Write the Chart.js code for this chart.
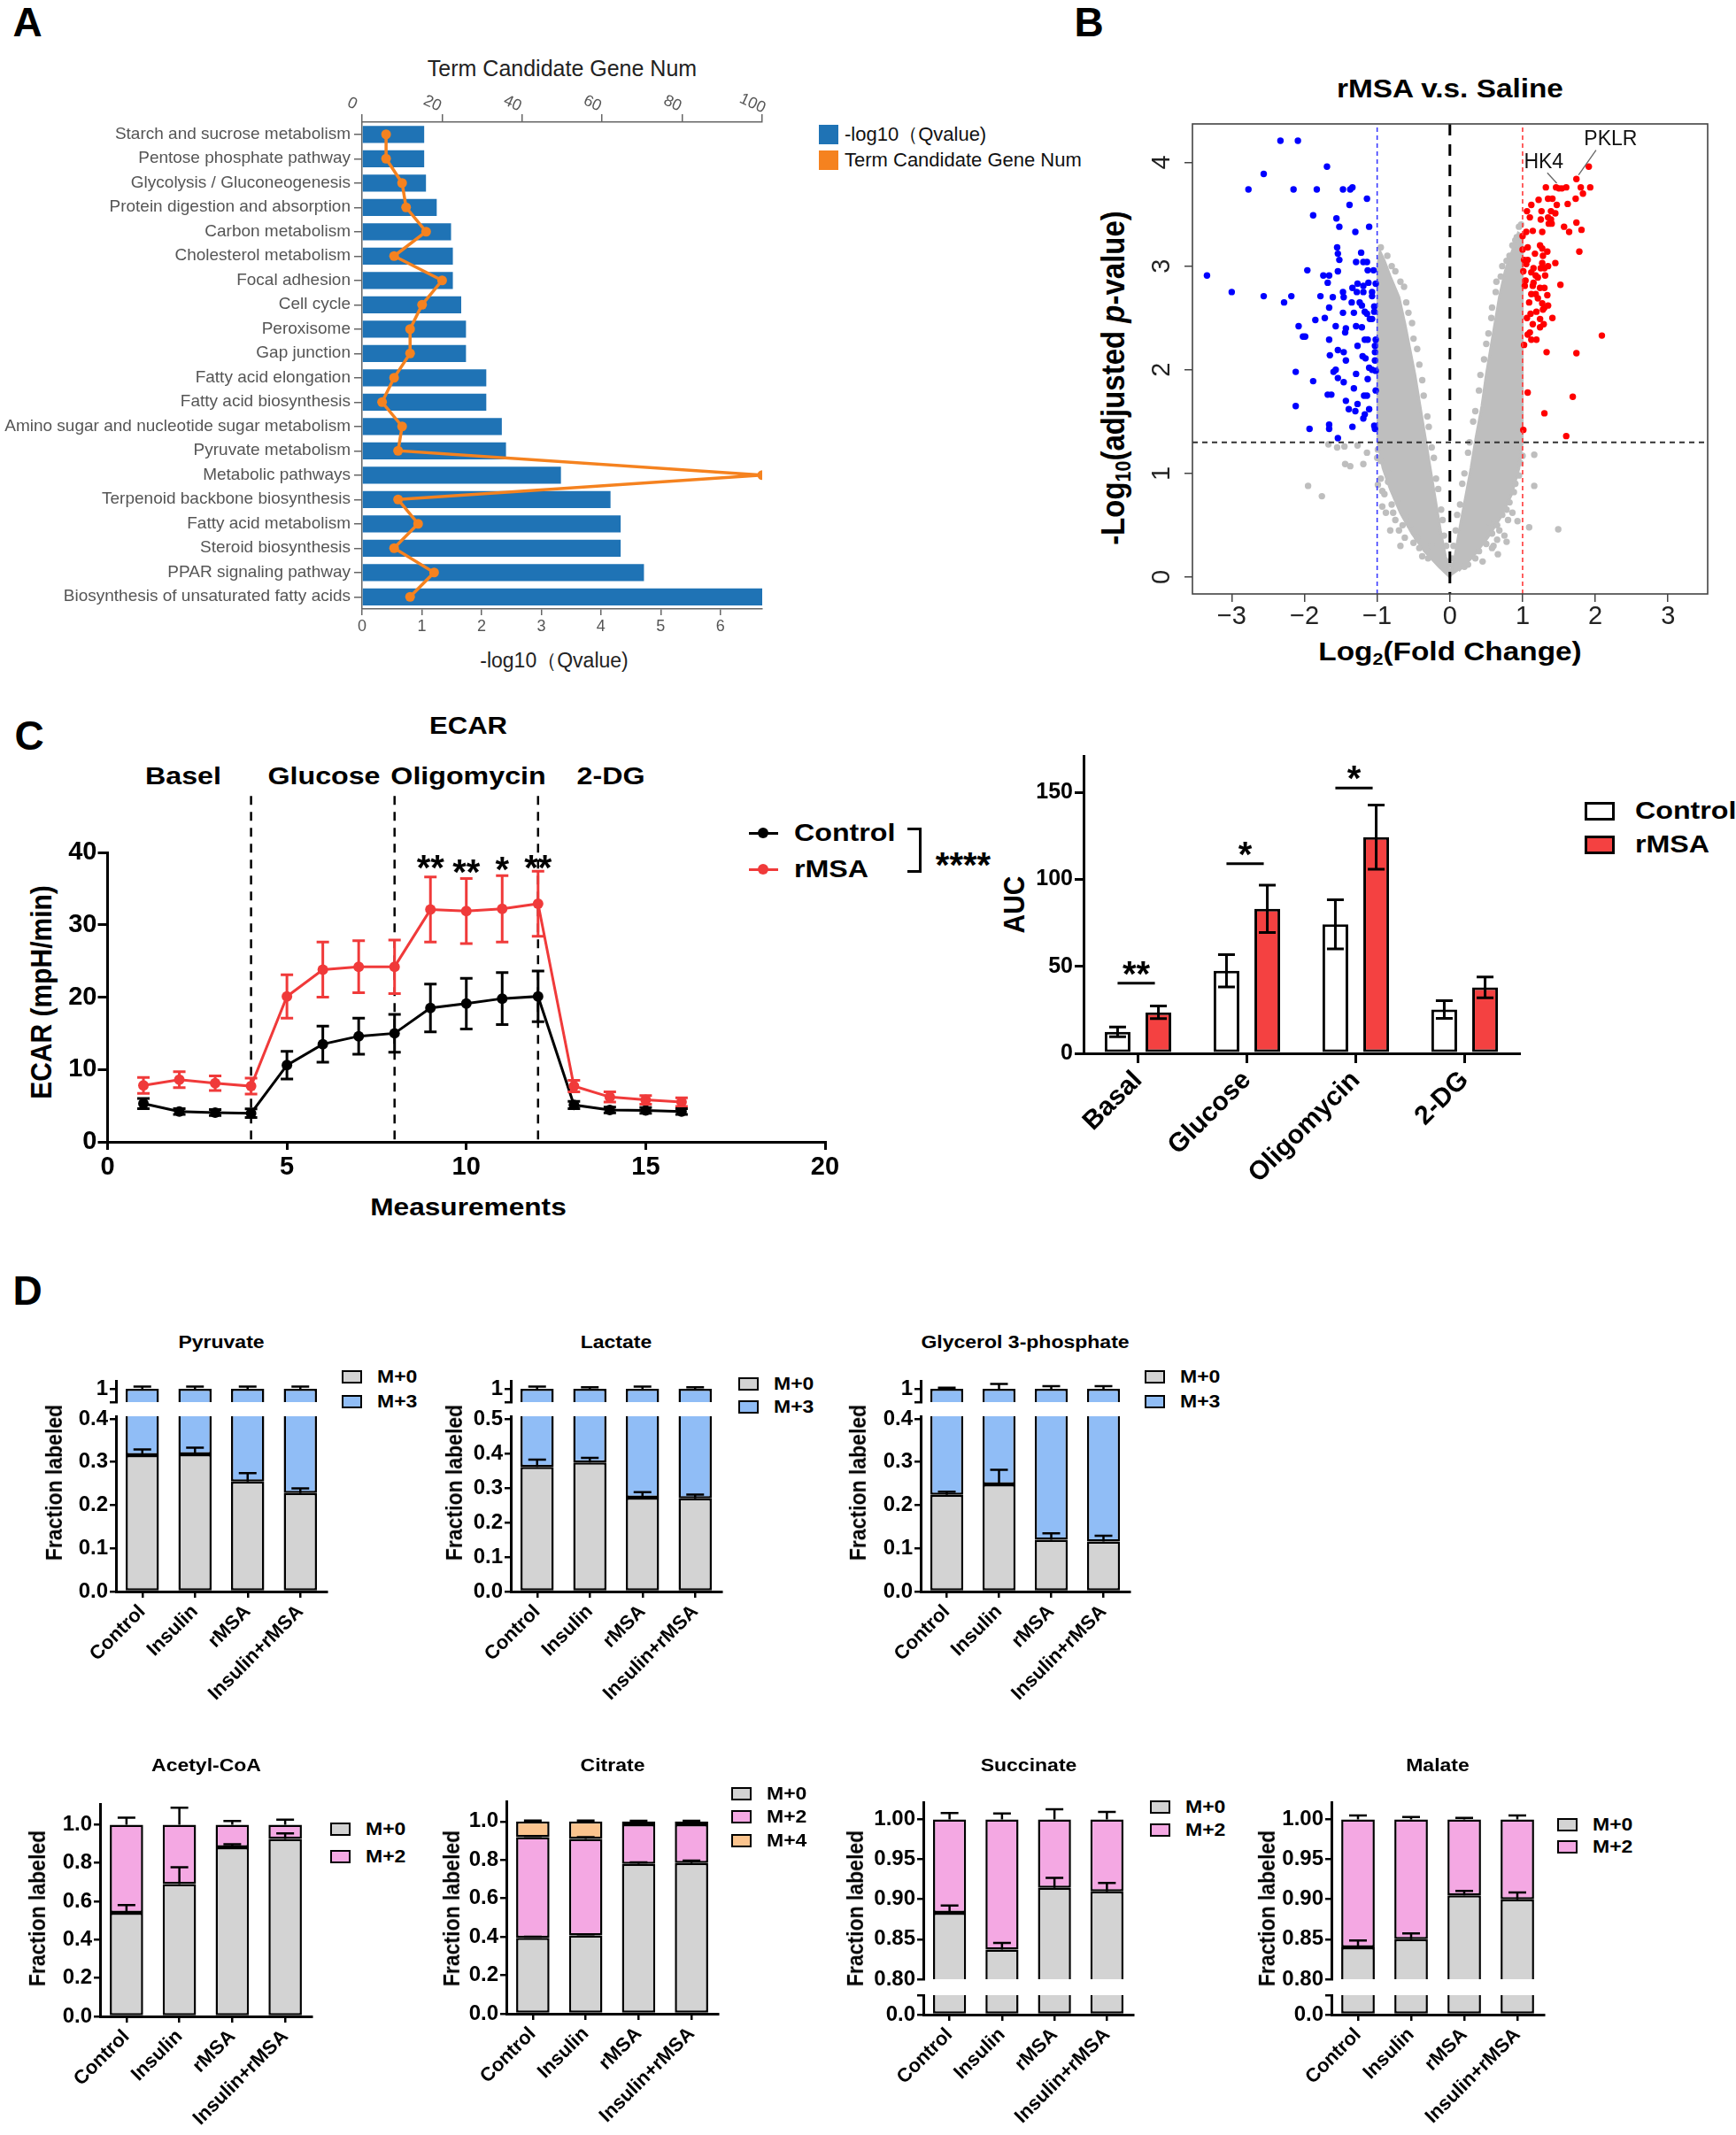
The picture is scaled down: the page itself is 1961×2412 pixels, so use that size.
<!DOCTYPE html>
<html>
<head>
<meta charset="utf-8">
<title>Figure</title>
<script src="https://cdn.jsdelivr.net/npm/chart.js"></script>
<style>
  html, body { margin: 0; padding: 0; background: #fff; }
  #page { position: relative; width: 1961px; height: 2412px; overflow: hidden; background: #fff; }
  #page canvas { position: absolute; }
  .lbl { position: absolute; white-space: nowrap; line-height: 1; }
  .box { position: absolute; box-sizing: border-box; }
</style>
</head>
<body>
<div id="page"></div>
<script>
const page = document.getElementById('page');
const SANS = '"Liberation Sans", Arial, Helvetica, sans-serif';

Chart.defaults.font.family = SANS;
Chart.defaults.color = '#000';
Chart.defaults.animation = false;
Chart.defaults.plugins.legend.display = false;
Chart.defaults.plugins.tooltip.enabled = false;

// ---------- A: KEGG enrichment ----------
const keggTerms = [
  'Starch and sucrose metabolism', 'Pentose phosphate pathway', 'Glycolysis / Gluconeogenesis',
  'Protein digestion and absorption', 'Carbon metabolism', 'Cholesterol metabolism', 'Focal adhesion',
  'Cell cycle', 'Peroxisome', 'Gap junction', 'Fatty acid elongation', 'Fatty acid biosynthesis',
  'Amino sugar and nucleotide sugar metabolism', 'Pyruvate metabolism', 'Metabolic pathways',
  'Terpenoid backbone biosynthesis', 'Fatty acid metabolism', 'Steroid biosynthesis',
  'PPAR signaling pathway', 'Biosynthesis of unsaturated fatty acids'
];
const keggQvalue = [1.04, 1.04, 1.07, 1.25, 1.49, 1.52, 1.52, 1.66, 1.74, 1.74, 2.08, 2.08, 2.34, 2.41, 3.33, 4.16, 4.33, 4.33, 4.72, 6.7];
const keggGeneNum = [6, 6, 10, 11, 16, 8, 20, 15, 12, 12, 8, 5, 10, 9, 100, 9, 14, 8, 18, 12];
const qvalueTicks = [0, 1, 2, 3, 4, 5, 6];
const geneNumTicks = [0, 20, 40, 60, 80, 100];

// ---------- B: volcano ----------
const volcanoXRange = [-3.54, 3.545];
const volcanoYRange = [-0.163, 4.372];
const volcanoXTicks = [-3, -2, -1, 0, 1, 2, 3];
const volcanoYTicks = [0, 1, 2, 3, 4];
const volcanoDown = [
  [-2.33,4.21],[-2.09,4.21],[-2.56,3.89],[-1.69,3.96],[-2.77,3.74],[-2.15,3.74],[-1.83,3.74],[-1.47,3.74],
  [-1.37,3.74],[-1.34,3.76],[-1.14,3.65],[-1.38,3.59],[-1.88,3.49],[-1.56,3.46],[-1.52,3.38],[-1.11,3.38],
  [-1.30,3.33],[-1.55,3.18],[-1.54,3.12],[-1.22,3.13],[-1.52,3.06],[-1.29,3.04],[-1.19,3.04],[-1.14,3.04],
  [-1.96,2.96],[-1.54,2.95],[-1.13,2.96],[-1.05,2.96],[-3.34,2.91],[-1.74,2.91],[-1.66,2.91],[-1.68,2.84],
  [-1.27,2.83],[-1.12,2.84],[-1.02,2.83],[-1.34,2.79],[-1.19,2.81],[-1.47,2.75],[-1.28,2.75],[-1.19,2.75],
  [-1.07,2.75],[-3.00,2.75],[-2.56,2.71],[-2.18,2.71],[-1.78,2.71],[-1.61,2.70],[-1.46,2.70],[-1.07,2.71],
  [-2.28,2.65],[-1.35,2.65],[-1.24,2.65],[-1.21,2.62],[-1.66,2.60],[-1.04,2.61],[-1.04,2.56],[-1.47,2.55],
  [-1.32,2.55],[-1.17,2.56],[-1.14,2.54],[-1.85,2.48],[-1.72,2.50],[-1.10,2.49],[-1.07,2.49],[-2.08,2.42],
  [-1.57,2.42],[-1.43,2.40],[-1.29,2.42],[-1.21,2.41],[-1.44,2.36],[-2.02,2.32],[-1.99,2.32],[-1.66,2.29],
  [-1.17,2.29],[-1.13,2.29],[-1.02,2.29],[-1.27,2.23],[-1.03,2.23],[-1.54,2.19],[-1.46,2.17],[-1.65,2.14],
  [-1.20,2.13],[-1.16,2.11],[-1.03,2.17],[-1.03,2.09],[-1.43,2.09],[-1.57,2.00],[-1.60,1.98],[-2.12,1.98],
  [-1.29,1.96],[-1.11,2.02],[-1.07,2.00],[-1.02,1.99],[-1.54,1.92],[-1.46,1.88],[-1.88,1.89],[-1.13,1.91],
  [-1.32,1.82],[-1.02,1.80],[-1.68,1.76],[-1.63,1.76],[-1.18,1.75],[-1.14,1.75],[-1.43,1.70],[-1.27,1.67],
  [-2.12,1.65],[-1.39,1.62],[-1.30,1.60],[-1.11,1.62],[-1.17,1.57],[-1.19,1.53],[-1.34,1.45],[-1.04,1.46],
  [-1.03,1.43],[-1.93,1.43],[-1.66,1.47],[-1.66,1.43],[-1.54,1.34]
];
const volcanoUp = [
  [1.91,3.96],[1.74,3.84],[1.32,3.76],[1.46,3.76],[1.50,3.75],[1.54,3.75],[1.60,3.76],[1.80,3.76],[1.93,3.76],
  [1.73,3.65],[1.83,3.70],[1.22,3.64],[1.35,3.65],[1.41,3.65],[1.47,3.59],[1.12,3.59],[1.62,3.60],[1.06,3.53],
  [1.26,3.53],[1.39,3.53],[1.45,3.51],[1.10,3.47],[1.25,3.45],[1.35,3.47],[1.39,3.45],[1.36,3.41],[1.40,3.41],
  [1.74,3.42],[1.57,3.38],[1.81,3.35],[1.14,3.34],[1.27,3.33],[1.64,3.33],[1.05,3.33],[1.00,3.29],[1.24,3.20],
  [1.27,3.17],[1.07,3.18],[1.78,3.14],[1.00,3.16],[1.02,3.06],[1.17,3.12],[1.28,3.10],[1.34,3.14],[1.07,3.06],
  [1.05,3.02],[1.27,3.03],[1.35,3.00],[1.45,3.03],[1.15,2.98],[1.25,2.98],[1.30,2.98],[1.01,2.95],[1.12,2.94],
  [1.18,2.91],[1.21,2.89],[1.31,2.91],[1.04,2.86],[1.15,2.84],[1.14,2.81],[1.52,2.82],[1.03,2.81],[1.24,2.79],
  [1.30,2.79],[1.12,2.73],[1.18,2.73],[1.34,2.72],[1.21,2.69],[1.09,2.65],[1.27,2.64],[1.30,2.60],[1.35,2.62],
  [1.28,2.58],[1.11,2.54],[1.19,2.56],[1.06,2.50],[1.24,2.49],[1.41,2.50],[1.14,2.44],[1.29,2.44],[1.24,2.41],
  [1.10,2.36],[1.07,2.34],[1.19,2.29],[1.12,2.29],[2.09,2.33],[1.02,2.24],[1.33,2.17],[1.74,2.16],[1.07,1.78],
  [1.69,1.74],[1.30,1.58],[1.01,1.42],[1.60,1.36]
];
// non-significant genes: dense core outlines plus scattered points
const volcanoCoreLeft = [
  [0,0],[-0.15,0.1],[-0.35,0.25],[-0.52,0.42],[-0.68,0.62],[-0.82,0.85],[-0.92,1.05],[-0.99,1.3],[-0.99,3.02],[-0.96,3.14],
  [-0.9,3.05],[-0.82,2.9],[-0.7,2.7],[-0.62,2.45],[-0.55,2.2],[-0.48,1.95],[-0.41,1.65],[-0.34,1.35],[-0.27,1.05],
  [-0.2,0.75],[-0.13,0.45],[-0.06,0.2],[-0.02,0.08]
];
const volcanoCoreRight = [
  [0,0],[0.02,0.05],[0.07,0.2],[0.13,0.45],[0.21,0.75],[0.29,1.05],[0.36,1.35],[0.44,1.65],[0.5,1.95],[0.56,2.2],
  [0.62,2.45],[0.68,2.7],[0.76,2.95],[0.86,3.15],[0.94,3.32],[0.99,3.3],[1.0,2.9],[0.99,1.3],[0.95,1.05],
  [0.85,0.8],[0.7,0.58],[0.52,0.38],[0.32,0.2],[0.12,0.06]
];
const volcanoNs = [
  [-0.25,0.3],[-0.42,0.28],[-0.55,0.5],[-0.62,0.38],[-0.75,0.55],[-0.8,0.7],[-0.9,0.8],[-0.85,1.0],[-0.95,0.95],
  [-1.0,1.15],[-0.7,0.45],[-0.5,0.33],[-0.05,0.3],[-0.1,0.55],[-0.16,0.85],[-0.22,1.15],[-0.29,1.45],[-0.36,1.75],
  [-0.42,2.05],[-0.5,2.3],[-0.57,2.55],[-0.63,2.8],[-0.75,2.95],[-0.86,3.1],[-0.95,3.18],[0.05,0.3],[0.1,0.6],
  [0.17,0.9],[0.25,1.2],[0.32,1.5],[0.4,1.8],[0.47,2.1],[0.53,2.35],[0.58,2.6],[0.64,2.85],[0.72,3.0],[0.82,3.1],
  [0.9,3.25],[0.95,3.38],[0.2,0.1],[0.4,0.25],[0.58,0.42],[0.72,0.6],[0.82,0.72],[0.9,0.9],[0.97,1.1],[0.6,0.3],
  [0.8,0.55],[0.45,0.15],[-1.95,0.88],[-1.76,0.78],[-1.44,1.09],[-1.19,1.09],[-1.45,1.26],[-1.67,1.28],[-1.14,1.2],
  [-1.27,1.27],[-0.99,1.23],[-0.99,0.89],[-0.93,0.83],[-0.93,0.68],[-1.37,1.07],[-1.55,1.25],[1.16,1.18],[1.16,0.88],
  [1.09,0.48],[0.93,0.54],[0.65,0.36],[0.53,0.53],[1.49,0.46],[1.0,1.17],[0.58,0.28],[0.75,0.4],[0.0,0.06],[0.0,0.12],
  [-0.03,0.15],[-0.08,0.4],[-0.12,0.65],[-0.19,0.95],[-0.25,1.25],[-0.31,1.55],[-0.38,1.9],[-0.45,2.2],[-0.52,2.45],
  [-0.6,2.65],[-0.68,2.85],[-0.8,3.0],[-0.3,0.18],[-0.45,0.38],[-0.6,0.58],[-0.72,0.75],[-0.85,0.92],[-0.95,1.12],
  [-0.65,0.5],[-0.78,0.62],[-0.38,0.2],[-0.88,0.62],[-0.82,0.45],[-0.68,0.3],[0.03,0.18],[0.08,0.45],[0.14,0.7],
  [0.2,1.0],[0.27,1.3],[0.35,1.6],[0.42,1.95],[0.5,2.25],[0.57,2.5],[0.63,2.75],[0.7,2.9],[0.78,3.05],[0.86,3.2],
  [0.25,0.12],[0.5,0.32],[0.65,0.5],[0.78,0.65],[0.88,0.82],[0.95,0.98],[0.35,0.18],[0.68,0.45],[0.98,3.4],
  [0.92,3.28],[0.86,0.62],[0.78,0.34],[0.66,0.22]
];
const geneNames = ['HK4', 'PKLR'];
const geneTextPos = [[1.29, 4.0], [2.21, 4.22]];
const geneLeaderFrom = [[1.34, 3.90], [2.01, 4.12]];
const geneLeaderTo = [[1.47, 3.80], [1.77, 3.88]];
const foldCut = 1, padjCut = 1.3;

// ---------- C: ECAR ----------
const measurementIdx = [1, 2, 3, 4, 5, 6, 7, 8, 9, 10, 11, 12, 13, 14, 15, 16];
const ecarControl = [5.3, 4.2, 4.05, 3.96, 10.6, 13.5, 14.6, 15.0, 18.5, 19.1, 19.8, 20.1, 5.1, 4.4, 4.35, 4.2];
const ecarControlSem = [0.7, 0.4, 0.4, 0.6, 1.9, 2.5, 2.5, 2.6, 3.3, 3.5, 3.6, 3.5, 0.5, 0.4, 0.4, 0.4];
const ecarRmsa = [7.8, 8.6, 8.1, 7.7, 20.1, 23.8, 24.2, 24.2, 32.1, 31.9, 32.2, 32.9, 7.7, 6.2, 5.8, 5.5];
const ecarRmsaSem = [1.1, 1.1, 1.0, 1.1, 3.0, 3.8, 3.6, 3.7, 4.5, 4.5, 4.6, 4.5, 0.8, 0.7, 0.6, 0.6];
const ecarPhaseBreaks = [4, 8, 12];
const ecarPhaseTop = 47.8;
const ecarStarX = [9, 10, 11, 12];
const ecarStarY = [39.0, 38.4, 38.7, 39.0];
const ecarStarText = ['**', '**', '*', '**'];

const aucPhases = ['Basal', 'Glucose', 'Oligomycin', '2-DG'];
const aucControl = [12.3, 47.5, 74.2, 25.2];
const aucControlSem = [2.8, 9.3, 14.1, 5.1];
const aucRmsa = [23.6, 83.1, 124.3, 37.9];
const aucRmsaSem = [3.6, 13.6, 18.5, 6.0];
const aucSigLevel = [40.3, 109.0, 152.5];
const aucSigText = ['**', '*', '*'];

// ---------- D: isotope labelling ----------
const fractionGroups = ['Control', 'Insulin', 'rMSA', 'Insulin+rMSA'];
const pyruvateM0 = [0.316, 0.318, 0.255, 0.228];
const pyruvateM3 = [0.684, 0.682, 0.745, 0.772];
const pyruvateM0Err = [0.013, 0.015, 0.019, 0.011];
const pyruvateM3Err = [0.004, 0.004, 0.004, 0.004];
const lactateM0 = [0.361, 0.374, 0.272, 0.270];
const lactateM3 = [0.639, 0.626, 0.728, 0.730];
const lactateM0Err = [0.021, 0.013, 0.016, 0.011];
const lactateM3Err = [0.004, 0.003, 0.004, 0.003];
const g3pM0 = [0.224, 0.248, 0.120, 0.116];
const g3pM3 = [0.776, 0.752, 0.880, 0.884];
const g3pM0Err = [0.007, 0.034, 0.015, 0.013];
const g3pM3Err = [0.002, 0.009, 0.005, 0.005];
const acetylM0 = [0.540, 0.690, 0.882, 0.926];
const acetylM2 = [0.460, 0.310, 0.118, 0.074];
const acetylM0Err = [0.040, 0.088, 0.016, 0.028];
const acetylM2Err = [0.037, 0.088, 0.019, 0.026];
const citrateM0 = [0.395, 0.407, 0.779, 0.784];
const citrateM2 = [0.523, 0.502, 0.206, 0.201];
const citrateM4 = [0.082, 0.091, 0.015, 0.015];
const citrateM0Err = [0.005, 0.006, 0.008, 0.012];
const citrateM2Err = [0.006, 0.010, 0.003, 0.003];
const citrateM4Err = [0.005, 0.005, 0.004, 0.004];
const succinateM0 = [0.883, 0.837, 0.9145, 0.910];
const succinateM2 = [0.117, 0.163, 0.0855, 0.090];
const succinateM0Err = [0.0093, 0.0085, 0.0123, 0.0104];
const succinateM2Err = [0.008, 0.0074, 0.0126, 0.0093];
const malateM0 = [0.840, 0.850, 0.905, 0.900];
const malateM2 = [0.160, 0.150, 0.095, 0.100];
const malateM0Err = [0.0086, 0.0074, 0.0056, 0.0086];
const malateM2Err = [0.005, 0.003, 0.002, 0.005];

const GRAY = '#d3d3d3', BLUE = '#90bdf6', PINK = '#f4a8e3', ORANGE = '#fbc48e';

// ---------- helpers ----------
function addText(html, x, y, o = {}) {
  const d = document.createElement('div');
  d.className = 'lbl';
  d.innerHTML = html;
  d.style.font = `${o.weight || 'bold'} ${o.size || 28}px ${SANS}`;
  d.style.color = o.color || '#000';
  d.style.left = x + 'px';
  d.style.top = y + 'px';
  let t = `translate(${o.align === 'left' ? '0' : '-50%'}, -50%)`;
  if (o.rot) t += ` rotate(${o.rot}deg)`;
  if (o.sx) t += ` scaleX(${o.sx})`;
  if (o.sy) t += ` scaleY(${o.sy})`;
  d.style.transform = t;
  if (o.align === 'left') d.style.transformOrigin = '0 50%';
  page.appendChild(d);
  return d;
}
function addStars(text, x, yc, size) {
  const d = document.createElement('div');
  d.className = 'lbl';
  d.textContent = text;
  d.style.font = `bold ${size}px ${SANS}`;
  d.style.left = x + 'px';
  d.style.top = (yc - 0.28 * size) + 'px';
  d.style.transform = 'translateX(-50%)';
  page.appendChild(d);
}
function addBox(x, y, w, h, css) {
  const d = document.createElement('div');
  d.className = 'box';
  Object.assign(d.style, { left: x + 'px', top: y + 'px', width: w + 'px', height: h + 'px' }, css);
  page.appendChild(d);
}
function addCanvas(left, top, w, h) {
  const c = document.createElement('canvas');
  c.width = w; c.height = h;
  c.style.left = left + 'px'; c.style.top = top + 'px';
  c.style.width = w + 'px'; c.style.height = h + 'px';
  page.appendChild(c);
  return c;
}
const fixW = w => s => { s.width = w; };
const fixH = h => s => { s.height = h; };
const setTicks = vals => s => { s.ticks = vals.map(v => ({ value: v })); };
const baseOpts = { responsive: false, maintainAspectRatio: false, devicePixelRatio: 1, animation: false };

function drawStars(ctx, text, x, yc, size) {
  ctx.save();
  ctx.font = `bold ${size}px ${SANS}`;
  ctx.fillStyle = '#000';
  ctx.textAlign = 'center';
  ctx.textBaseline = 'alphabetic';
  ctx.fillText(text, x, yc + 0.565 * size);
  ctx.restore();
}

const errorBarPlugin = {
  id: 'errorBars',
  afterDatasetsDraw(chart) {
    const ctx = chart.ctx;
    chart.data.datasets.forEach((ds, di) => {
      if (!ds.err) return;
      const meta = chart.getDatasetMeta(di);
      const ys = chart.scales[meta.yAxisID];
      ctx.save();
      ctx.strokeStyle = ds.errColor || '#000';
      ctx.lineWidth = ds.errWidth || 3;
      meta.data.forEach((el, i) => {
        const e = ds.err[i];
        const raw = ds.data[i];
        if (e == null || raw == null) return;
        const v = ds.errAt ? ds.errAt[i] : (typeof raw === 'object' ? raw.y : raw);
        if (v < ys.min - 1e-9 || v > ys.max + 1e-9) return;
        const x = el.x, half = (ds.errCap || 16) / 2;
        const yu = ys.getPixelForValue(v + e);
        const yd = ds.errBoth ? ys.getPixelForValue(v - e) : ys.getPixelForValue(v);
        ctx.beginPath();
        ctx.moveTo(x, yd); ctx.lineTo(x, yu);
        ctx.moveTo(x - half, yu); ctx.lineTo(x + half, yu);
        if (ds.errBoth) { ctx.moveTo(x - half, yd); ctx.lineTo(x + half, yd); }
        ctx.stroke();
      });
      ctx.restore();
    });
  }
};

// ---------- panel letters ----------
addText('A', 31, 25, { size: 46 });
addText('B', 1230, 25, { size: 46 });
addText('C', 33, 831, { size: 46 });
addText('D', 31, 1458, { size: 46 });

// ---------- A ----------
addText('Term Candidate Gene Num', 635, 77, { size: 25, weight: 'normal', color: '#222' });
addText('-log10（Qvalue)', 626, 746, { size: 23, weight: 'normal', color: '#222' });
addBox(925, 141, 22, 22, { background: '#1f73b5' });
addBox(925, 170, 22, 22, { background: '#f5821f' });
addText('-log10（Qvalue)', 954, 152, { size: 22, weight: 'normal', color: '#111', align: 'left' });
addText('Term Candidate Gene Num', 954, 181, { size: 22, weight: 'normal', color: '#111', align: 'left' });

const geneAxisLabels = {
  id: 'geneAxisLabels',
  afterDraw(chart) {
    const s = chart.scales.x2, ctx = chart.ctx;
    ctx.save();
    ctx.font = '18px ' + SANS;
    ctx.fillStyle = '#555';
    ctx.textAlign = 'center';
    ctx.textBaseline = 'middle';
    geneNumTicks.forEach(v => {
      ctx.save();
      ctx.translate(s.getPixelForValue(v) - 11, s.bottom - 21);
      ctx.rotate(25 * Math.PI / 180);
      ctx.fillText(String(v), 0, 0);
      ctx.restore();
    });
    ctx.restore();
  }
};

new Chart(addCanvas(0, 100, 880, 628), {
  type: 'bar',
  data: {
    labels: keggTerms,
    datasets: [
      { type: 'line', indexAxis: 'y', data: keggGeneNum, xAxisID: 'x2', yAxisID: 'y',
        borderColor: '#f5821f', backgroundColor: '#f5821f', borderWidth: 3.5,
        pointRadius: 5.5, pointBorderWidth: 0, tension: 0, order: 0 },
      { type: 'bar', data: keggQvalue, xAxisID: 'x', yAxisID: 'y', backgroundColor: '#1f73b5',
        barPercentage: 0.7, categoryPercentage: 1, order: 1 }
    ]
  },
  options: Object.assign({}, baseOpts, {
    indexAxis: 'y',
    layout: { padding: { top: 0, right: 19, left: 0, bottom: 0 } },
    scales: {
      y: { type: 'category', afterFit: fixW(409),
        grid: { offset: false, drawOnChartArea: false, tickLength: 9, color: '#666', lineWidth: 1.5 },
        border: { color: '#666', width: 1.5 },
        ticks: { font: { size: 19 }, color: '#555', padding: 4, autoSkip: false } },
      x: { type: 'linear', position: 'bottom', min: 0, max: 6.7, afterBuildTicks: setTicks(qvalueTicks), afterFit: fixH(40),
        grid: { drawOnChartArea: false, tickLength: 7, color: '#666', lineWidth: 1.5 },
        border: { color: '#666', width: 1.5 },
        ticks: { font: { size: 18 }, color: '#555', padding: 2 } },
      x2: { type: 'linear', position: 'top', min: 0, max: 100, afterBuildTicks: setTicks(geneNumTicks), afterFit: fixH(38),
        grid: { drawOnChartArea: false, tickLength: 9, color: '#666', lineWidth: 1.5 },
        border: { color: '#666', width: 1.5 },
        ticks: { display: false } }
    }
  }),
  plugins: [geneAxisLabels]
});

// ---------- B ----------
addText('rMSA v.s. Saline', 1638, 100, { size: 29, sx: 1.15 });
addText('Log<sub style="font-size:65%;vertical-align:-0.3em;line-height:0">2</sub>(Fold Change)', 1638, 736, { size: 29, sx: 1.15 });
addText('-Log<sub style="font-size:65%;vertical-align:-0.3em;line-height:0">10</sub>(adjusted <i>p</i>-value)', 1258, 427, { size: 33, rot: -90, sy: 1.1 });

const volcanoDecor = {
  id: 'volcanoDecor',
  afterDraw(chart) {
    const { ctx, chartArea: a, scales: { x, y } } = chart;
    ctx.save();
    ctx.strokeStyle = '#444';
    ctx.lineWidth = 1.6;
    ctx.strokeRect(a.left, a.top, a.right - a.left, a.bottom - a.top);
    ctx.fillStyle = '#222';
    ctx.font = '29px ' + SANS;
    ctx.textAlign = 'center';
    ctx.textBaseline = 'middle';
    volcanoYTicks.forEach(v => {
      ctx.save();
      ctx.translate(a.left - 34, y.getPixelForValue(v));
      ctx.rotate(-Math.PI / 2);
      ctx.fillText(String(v), 0, 0);
      ctx.restore();
    });
    ctx.font = '23px ' + SANS;
    ctx.fillStyle = '#111';
    geneNames.forEach((g, i) => {
      ctx.fillText(g, x.getPixelForValue(geneTextPos[i][0]), y.getPixelForValue(geneTextPos[i][1]));
    });
    ctx.strokeStyle = '#666';
    ctx.lineWidth = 1.3;
    geneLeaderFrom.forEach((p, i) => {
      ctx.beginPath();
      ctx.moveTo(x.getPixelForValue(p[0]), y.getPixelForValue(p[1]));
      ctx.lineTo(x.getPixelForValue(geneLeaderTo[i][0]), y.getPixelForValue(geneLeaderTo[i][1]));
      ctx.stroke();
    });
    ctx.restore();
  }
};

const ptStyle = { pointRadius: 3.7, pointBorderWidth: 0, pointHoverRadius: 3.7 };
new Chart(addCanvas(1240, 60, 721, 700), {
  type: 'scatter',
  data: {
    datasets: [
      { type: 'line', data: [[-foldCut, volcanoYRange[0]], [-foldCut, volcanoYRange[1]]], borderColor: '#3b3bff', borderWidth: 1.6, borderDash: [5, 4], pointRadius: 0, order: 0 },
      { type: 'line', data: [[foldCut, volcanoYRange[0]], [foldCut, volcanoYRange[1]]], borderColor: '#ff3b3b', borderWidth: 1.6, borderDash: [5, 4], pointRadius: 0, order: 0 },
      { type: 'line', data: [[0, volcanoYRange[1]], [0, volcanoYRange[0]]], borderColor: '#000', borderWidth: 3, borderDash: [13, 10], pointRadius: 0, order: 0 },
      { type: 'line', data: [[volcanoXRange[0], padjCut], [volcanoXRange[1], padjCut]], borderColor: '#333', borderWidth: 2, borderDash: [6, 5], pointRadius: 0, order: 0 },
      Object.assign({ data: volcanoUp, backgroundColor: '#ff0000', order: 1 }, ptStyle),
      Object.assign({ data: volcanoDown, backgroundColor: '#0000ff', order: 1 }, ptStyle),
      Object.assign({ data: volcanoNs, backgroundColor: '#bebebe', order: 2 }, ptStyle),
      { type: 'line', data: volcanoCoreLeft, fill: 'shape', backgroundColor: '#bebebe', borderColor: '#bebebe', borderWidth: 3, pointRadius: 0, order: 3 },
      { type: 'line', data: volcanoCoreRight, fill: 'shape', backgroundColor: '#bebebe', borderColor: '#bebebe', borderWidth: 3, pointRadius: 0, order: 3 }
    ]
  },
  options: Object.assign({}, baseOpts, {
    layout: { padding: { top: 80, right: 32, left: 0, bottom: 0 } },
    scales: {
      x: { type: 'linear', min: volcanoXRange[0], max: volcanoXRange[1], afterBuildTicks: setTicks(volcanoXTicks), afterFit: fixH(89),
        ticks: { font: { size: 29 }, color: '#222', padding: 0, callback: v => String(v).replace('-', '\u2212') },
        grid: { drawOnChartArea: false, tickLength: 9, color: '#444', lineWidth: 1.5 },
        border: { display: false } },
      y: { type: 'linear', min: volcanoYRange[0], max: volcanoYRange[1], afterBuildTicks: setTicks(volcanoYTicks), afterFit: fixW(107),
        ticks: { display: false },
        grid: { drawOnChartArea: false, tickLength: 9, color: '#444', lineWidth: 1.5 },
        border: { display: false } }
    }
  }),
  plugins: [volcanoDecor]
});

// ---------- C: ECAR time course ----------
addText('ECAR', 529, 820, { size: 27, sx: 1.15 });
addText('Basel', 207, 877, { size: 28, sx: 1.15 });
addText('Glucose', 366, 877, { size: 28, sx: 1.15 });
addText('Oligomycin', 529, 877, { size: 28, sx: 1.15 });
addText('2-DG', 690, 877, { size: 28, sx: 1.15 });
addText('ECAR (mpH/min)', 47, 1121, { size: 30, rot: -90, sy: 1.12 });
addText('Measurements', 529, 1364, { size: 27.5, sx: 1.15 });
addBox(846, 939.5, 33, 3, { background: '#000' });
addBox(856, 935, 12, 12, { background: '#000', borderRadius: '50%' });
addBox(846, 980.5, 33, 3, { background: '#f03a3a' });
addBox(856, 976, 12, 12, { background: '#f03a3a', borderRadius: '50%' });
addText('Control', 897, 941, { size: 28, sx: 1.15, align: 'left' });
addText('rMSA', 897, 982, { size: 28, sx: 1.15, align: 'left' });
addBox(1025, 935, 16, 51, { borderTop: '3px solid #000', borderRight: '3px solid #000', borderBottom: '3px solid #000' });
addStars('****', 1088, 966, 40);

const ecarDecor = {
  id: 'ecarDecor',
  beforeDatasetsDraw(chart) {
    const { ctx, scales: { x, y } } = chart;
    ctx.save();
    ctx.strokeStyle = '#000';
    ctx.lineWidth = 2.5;
    ctx.setLineDash([10, 8]);
    ecarPhaseBreaks.forEach(m => {
      const px = x.getPixelForValue(m);
      ctx.beginPath();
      ctx.moveTo(px, y.getPixelForValue(ecarPhaseTop));
      ctx.lineTo(px, y.getPixelForValue(0));
      ctx.stroke();
    });
    ctx.restore();
  },
  afterDraw(chart) {
    const { ctx, scales: { x, y } } = chart;
    ecarStarX.forEach((m, i) => drawStars(ctx, ecarStarText[i], x.getPixelForValue(m), y.getPixelForValue(ecarStarY[i]), 40));
  }
};

new Chart(addCanvas(0, 840, 960, 520), {
  type: 'line',
  data: {
    datasets: [
      { data: measurementIdx.map((m, i) => ({ x: m, y: ecarRmsa[i] })), borderColor: '#f03a3a', backgroundColor: '#f03a3a',
        borderWidth: 3, pointRadius: 6, pointBorderWidth: 0, err: ecarRmsaSem, errBoth: true, errCap: 14, errColor: '#f03a3a' },
      { data: measurementIdx.map((m, i) => ({ x: m, y: ecarControl[i] })), borderColor: '#000', backgroundColor: '#000',
        borderWidth: 3, pointRadius: 6, pointBorderWidth: 0, err: ecarControlSem, errBoth: true, errCap: 14, errColor: '#000' }
    ]
  },
  options: Object.assign({}, baseOpts, {
    layout: { padding: { top: 123, right: 28, left: 0, bottom: 0 } },
    scales: {
      x: { type: 'linear', min: 0, max: 20, afterBuildTicks: setTicks([0, 5, 10, 15, 20]), afterFit: fixH(70),
        ticks: { font: { size: 29, weight: 'bold' }, color: '#000', padding: 3 },
        grid: { drawOnChartArea: false, tickLength: 9, color: '#000', lineWidth: 3 },
        border: { color: '#000', width: 3 } },
      y: { type: 'linear', min: 0, max: 40, afterBuildTicks: setTicks([0, 10, 20, 30, 40]), afterFit: fixW(121.5),
        ticks: { font: { size: 29, weight: 'bold' }, color: '#000', padding: 1 },
        grid: { drawOnChartArea: false, tickLength: 11, color: '#000', lineWidth: 3 },
        border: { color: '#000', width: 3 } }
    }
  }),
  plugins: [errorBarPlugin, ecarDecor]
});

// ---------- C: AUC ----------
addText('AUC', 1146, 1022, { size: 30, rot: -90, sy: 1.12 });
addBox(1790, 906, 34, 21, { background: '#fff', border: '3px solid #000' });
addBox(1790, 944, 34, 21, { background: '#f44141', border: '3px solid #000' });
addText('Control', 1847, 916, { size: 28, sx: 1.15, align: 'left' });
addText('rMSA', 1847, 954, { size: 28, sx: 1.15, align: 'left' });

const aucSig = {
  id: 'aucSig',
  afterDraw(chart) {
    const { ctx, scales: { y } } = chart;
    const m0 = chart.getDatasetMeta(0), m1 = chart.getDatasetMeta(1);
    ctx.save();
    ctx.strokeStyle = '#000';
    ctx.lineWidth = 3;
    aucSigLevel.forEach((lv, g) => {
      const x0 = m0.data[g].x, x1 = m1.data[g].x - 4, py = y.getPixelForValue(lv);
      ctx.beginPath(); ctx.moveTo(x0, py); ctx.lineTo(x1, py); ctx.stroke();
      drawStars(ctx, aucSigText[g], (x0 + x1) / 2, y.getPixelForValue(lv + 10), 40);
    });
    ctx.restore();
  }
};

new Chart(addCanvas(1100, 830, 861, 520), {
  type: 'bar',
  data: {
    labels: aucPhases,
    datasets: [
      { data: aucControl, backgroundColor: '#fff', borderColor: '#000', borderWidth: 3, borderSkipped: false,
        barPercentage: 0.63, categoryPercentage: 0.75, err: aucControlSem, errBoth: true, errCap: 19 },
      { data: aucRmsa, backgroundColor: '#f44141', borderColor: '#000', borderWidth: 3, borderSkipped: false,
        barPercentage: 0.63, categoryPercentage: 0.75, err: aucRmsaSem, errBoth: true, errCap: 19 }
    ]
  },
  options: Object.assign({}, baseOpts, {
    layout: { padding: { top: 24, right: 245, left: 0, bottom: 0 } },
    scales: {
      x: { afterFit: fixH(160),
        grid: { offset: false, drawOnChartArea: false, tickLength: 11, color: '#000', lineWidth: 3 },
        border: { color: '#000', width: 3 },
        ticks: { font: { size: 30, weight: 'bold' }, color: '#000', minRotation: 45, maxRotation: 45, autoSkip: false, padding: 2 } },
      y: { min: 0, max: 171, afterBuildTicks: setTicks([0, 50, 100, 150]), afterFit: fixW(124),
        ticks: { font: { size: 25, weight: 'bold' }, color: '#000', padding: 2 },
        grid: { drawOnChartArea: false, tickLength: 10, color: '#000', lineWidth: 3 },
        border: { color: '#000', width: 3 } }
    }
  }),
  plugins: [errorBarPlugin, aucSig]
});

// ---------- D: fraction labelled ----------
function fractionChart(p) {
  const first = p.segs[0], last = p.segs[p.segs.length - 1];
  const left = p.axisX - 100;
  const width = p.rightX + 14 - left;
  const scales = {
    x: { type: 'category', offset: true, afterFit: fixH(p.cBottom - last.y1),
      grid: { offset: false, drawOnChartArea: false, tickLength: 7, color: '#000', lineWidth: 2.5 },
      border: { color: '#000', width: 3 },
      ticks: { font: { size: 22, weight: 'bold' }, color: '#000', minRotation: 45, maxRotation: 45, autoSkip: false, padding: 3 } }
  };
  p.segs.forEach((sg, k) => {
    const sc = { type: 'linear', position: 'left', stack: 'frac', stackWeight: sg.y1 - sg.y0, weight: p.segs.length - k, afterFit: fixW(100) };
    if (sg.gap) {
      Object.assign(sc, { min: 0, max: 1, ticks: { display: false }, grid: { display: false }, border: { display: false } });
    } else {
      Object.assign(sc, { min: sg.min, max: sg.max, afterBuildTicks: setTicks(sg.ticks),
        ticks: { autoSkip: false, font: { size: 24, weight: 'bold' }, color: '#000', padding: 2, callback: (v, i) => sg.text[i] },
        grid: { drawOnChartArea: false, tickLength: 7, color: '#000', lineWidth: 2.5 },
        border: { color: '#000', width: 3 } });
    }
    scales['y' + k] = sc;
  });
  const datasets = [];
  let lo = fractionGroups.map(() => 0);
  p.layers.forEach(layer => {
    const base = lo;
    const hi = base.map((b, i) => b + layer.vals[i]);
    p.segs.forEach((sg, k) => {
      if (sg.gap) return;
      const data = base.map((b, i) => {
        const a = Math.max(b, sg.min), c = Math.min(hi[i], sg.max);
        return c > a ? [a, c] : null;
      });
      const skipped = base.map((b, i) => b < sg.min - 1e-9 ? 'bottom' : (hi[i] > sg.max + 1e-9 ? 'top' : false));
      datasets.push({ yAxisID: 'y' + k, data, backgroundColor: layer.color, borderColor: '#000', borderWidth: 2.5,
        borderSkipped: skipped, grouped: false, barPercentage: 0.63, categoryPercentage: 1,
        err: layer.errs, errAt: hi, errCap: 20, errWidth: 2.5 });
    });
    lo = hi;
  });
  new Chart(addCanvas(left, p.cTop, width, p.cBottom - p.cTop), {
    type: 'bar',
    data: { labels: fractionGroups, datasets },
    options: Object.assign({}, baseOpts, {
      layout: { padding: { top: first.y0 - p.cTop, right: 14, left: 0, bottom: 0 } },
      scales
    }),
    plugins: [errorBarPlugin]
  });
  const cx = (p.axisX + p.rightX) / 2;
  addText(p.title, cx, p.titleY, { size: 20, sx: 1.15 });
  addText('Fraction labeled', p.yTitleX, p.yTitleY, { size: 23, rot: -90, sy: 1.12 });
  p.legend.forEach((lg, i) => {
    addBox(p.legendX, p.legendY[i] - 7.5, 23, 15, { background: lg.color, border: '2.5px solid #000' });
    addText(lg.name, p.legendX + 40, p.legendY[i], { size: 20, sx: 1.15, align: 'left' });
  });
}

const upperSeg = { min: 0.975, max: 1.015, y0: 1560, y1: 1584, ticks: [0.975, 1], text: ['', '1'] };
const gapSeg1 = { gap: true, y0: 1584, y1: 1600 };
const lowSeg04 = { min: 0, max: 0.406, y0: 1600, y1: 1798, ticks: [0, 0.1, 0.2, 0.3, 0.4], text: ['0.0', '0.1', '0.2', '0.3', '0.4'] };
const lowSeg05 = { min: 0, max: 0.5077, y0: 1600, y1: 1798, ticks: [0, 0.1, 0.2, 0.3, 0.4, 0.5], text: ['0.0', '0.1', '0.2', '0.3', '0.4', '0.5'] };
const row1 = { cTop: 1530, cBottom: 1960, titleY: 1516, yTitleY: 1675 };
const row2 = { cTop: 2005, cBottom: 2412, titleY: 1994, yTitleY: 2156 };
const tcaMain = { min: 0.8, max: 1.0216, y0: 2036, y1: 2236, ticks: [0.8, 0.85, 0.9, 0.95, 1.0], text: ['0.80', '0.85', '0.90', '0.95', '1.00'] };
const tcaGap = { gap: true, y0: 2236, y1: 2254 };
const tcaLow = { min: 0, max: 0.05, y0: 2254, y1: 2276, ticks: [0, 0.05], text: ['0.0', ''] };
const fullTicks = [0, 0.2, 0.4, 0.6, 0.8, 1.0];
const fullText = ['0.0', '0.2', '0.4', '0.6', '0.8', '1.0'];

fractionChart(Object.assign({}, row1, {
  title: 'Pyruvate', axisX: 131, rightX: 369, yTitleX: 61, segs: [upperSeg, gapSeg1, lowSeg04],
  layers: [{ vals: pyruvateM0, errs: pyruvateM0Err, color: GRAY }, { vals: pyruvateM3, errs: pyruvateM3Err, color: BLUE }],
  legendX: 386, legendY: [1555, 1583], legend: [{ name: 'M+0', color: GRAY }, { name: 'M+3', color: BLUE }]
}));
fractionChart(Object.assign({}, row1, {
  title: 'Lactate', axisX: 577, rightX: 815, yTitleX: 513, segs: [upperSeg, gapSeg1, lowSeg05],
  layers: [{ vals: lactateM0, errs: lactateM0Err, color: GRAY }, { vals: lactateM3, errs: lactateM3Err, color: BLUE }],
  legendX: 834, legendY: [1563, 1589], legend: [{ name: 'M+0', color: GRAY }, { name: 'M+3', color: BLUE }]
}));
fractionChart(Object.assign({}, row1, {
  title: 'Glycerol 3-phosphate', axisX: 1040, rightX: 1276, yTitleX: 969, segs: [upperSeg, gapSeg1, lowSeg04],
  layers: [{ vals: g3pM0, errs: g3pM0Err, color: GRAY }, { vals: g3pM3, errs: g3pM3Err, color: BLUE }],
  legendX: 1293, legendY: [1555, 1583], legend: [{ name: 'M+0', color: GRAY }, { name: 'M+3', color: BLUE }]
}));
fractionChart(Object.assign({}, row2, {
  title: 'Acetyl-CoA', axisX: 113, rightX: 352, yTitleX: 42,
  segs: [{ min: 0, max: 1.108, y0: 2038, y1: 2278, ticks: fullTicks, text: fullText }],
  layers: [{ vals: acetylM0, errs: acetylM0Err, color: GRAY }, { vals: acetylM2, errs: acetylM2Err, color: PINK }],
  legendX: 373, legendY: [2066, 2097], legend: [{ name: 'M+0', color: GRAY }, { name: 'M+2', color: PINK }]
}));
fractionChart(Object.assign({}, row2, {
  title: 'Citrate', axisX: 572, rightX: 811, yTitleX: 510,
  segs: [{ min: 0, max: 1.105, y0: 2035, y1: 2275, ticks: fullTicks, text: fullText }],
  layers: [{ vals: citrateM0, errs: citrateM0Err, color: GRAY }, { vals: citrateM2, errs: citrateM2Err, color: PINK },
           { vals: citrateM4, errs: citrateM4Err, color: ORANGE }],
  legendX: 826, legendY: [2026, 2052, 2079],
  legend: [{ name: 'M+0', color: GRAY }, { name: 'M+2', color: PINK }, { name: 'M+4', color: ORANGE }]
}));
fractionChart(Object.assign({}, row2, {
  title: 'Succinate', axisX: 1043, rightX: 1280, yTitleX: 966, segs: [tcaMain, tcaGap, tcaLow],
  layers: [{ vals: succinateM0, errs: succinateM0Err, color: GRAY }, { vals: succinateM2, errs: succinateM2Err, color: PINK }],
  legendX: 1299, legendY: [2041, 2067], legend: [{ name: 'M+0', color: GRAY }, { name: 'M+2', color: PINK }]
}));
fractionChart(Object.assign({}, row2, {
  title: 'Malate', axisX: 1504, rightX: 1744, yTitleX: 1431, segs: [tcaMain, tcaGap, tcaLow],
  layers: [{ vals: malateM0, errs: malateM0Err, color: GRAY }, { vals: malateM2, errs: malateM2Err, color: PINK }],
  legendX: 1759, legendY: [2061, 2086], legend: [{ name: 'M+0', color: GRAY }, { name: 'M+2', color: PINK }]
}));
</script>
</body>
</html>
